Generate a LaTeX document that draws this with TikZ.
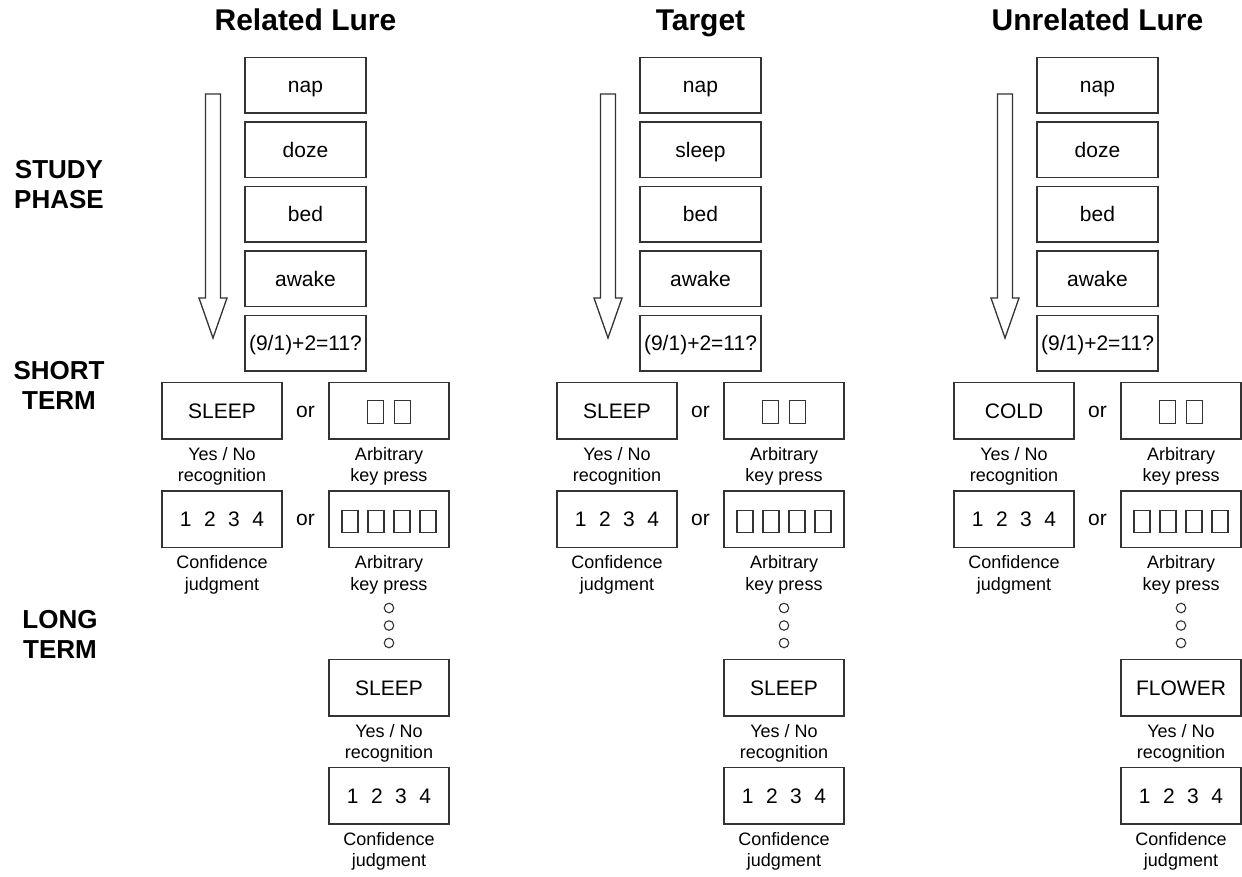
\documentclass[tikz,border=0pt]{standalone}
\usepackage{fontspec}
\setmainfont{Liberation Sans}
\usetikzlibrary{calc,positioning}
\definecolor{edge}{HTML}{333333}
\begin{document}
\begin{tikzpicture}[x=1pt,y=-1pt,
  wordbox/.style={draw=edge, line width=1.5pt, minimum width=121pt, minimum height=55.5pt,
    inner sep=0pt, text height=15pt, text depth=0pt, font=\fontsize{21}{25}\selectfont},
  respbox/.style={wordbox, minimum width=120pt, minimum height=56.5pt},
  caption/.style={font=\fontsize{18}{21.5}\selectfont, align=center, inner sep=0pt},
  heading/.style={font=\bfseries\fontsize{30}{36}\selectfont, inner sep=0pt, anchor=base},
  phase/.style={font=\bfseries\fontsize{26}{30}\selectfont, align=center, inner sep=0pt, anchor=north},
  orword/.style={font=\fontsize{21}{25}\selectfont, inner sep=0pt, text height=13pt, text depth=0pt},
  keycap/.style={draw=edge, line width=1.1pt, minimum width=16pt, minimum height=22.5pt, inner sep=0pt},
  dot/.style={draw=edge, line width=1.1pt, circle, minimum size=9.5pt, inner sep=0pt},
  flow/.style={draw=edge, line width=1.3pt, fill=white, line join=miter}
]
\useasboundingbox (0,0) rectangle (1242,876);

% phase labels on the left
\node[phase] (study) at (59,160) {STUDY\\PHASE};
\node[phase] (short) at (59,361) {SHORT\\TERM};
\node[phase] (long)  at (60,610) {LONG\\TERM};

% one column per condition: left edge of study list, name, heading, 2nd word, probes
\foreach \L/\c/\head/\w/\stw/\ltw in {
    245/a/Related Lure/doze/SLEEP/SLEEP,
    640/b/Target/sleep/SLEEP/SLEEP,
    1037/c/Unrelated Lure/doze/COLD/FLOWER}{
  \node[heading] (\c-title) at (\L+60.5,30) {\head};

  % study list
  \node[wordbox] (\c-s1) at (\L+60.5,85)    {nap};
  \node[wordbox] (\c-s2) at (\L+60.5,149.5) {\w};
  \node[wordbox] (\c-s3) at (\L+60.5,214)   {bed};
  \node[wordbox] (\c-s4) at (\L+60.5,278.5) {awake};
  \node[wordbox] (\c-s5) at (\L+60.5,343)   {(9/1)+2=11?};

  % hollow downward arrow beside the list
  \draw[flow] (\L-39.5,94) -- (\L-24.5,94) -- (\L-24.5,298) -- (\L-18,298)
    -- (\L-32,338) -- (\L-46,298) -- (\L-39.5,298) -- cycle;

  % short-term test: recognition / key press
  \node[respbox] (\c-yn) at (\L-23,410.5) {\stw};
  \node[orword]  (\c-or1) at (\L+60.5,410.5) {or};
  \node[respbox] (\c-k2) at (\L+144,410.5) {};
  \node[keycap]  (\c-k2a) at ($(\c-k2.center)+(-13.5,1.5)$) {};
  \node[keycap]  (\c-k2b) at ($(\c-k2.center)+(13.5,1.5)$) {};
  \node[caption, below=7.5pt of \c-yn] (\c-ynl) {Yes / No\\recognition};
  \node[caption, below=7.5pt of \c-k2] (\c-k2l) {Arbitrary\\key press};

  % short-term test: confidence / key press
  \node[respbox] (\c-cj) at (\L-23,519) {1\hspace{12.5pt}2\hspace{12.5pt}3\hspace{12.5pt}4};
  \node[orword]  (\c-or2) at (\L+60.5,519) {or};
  \node[respbox] (\c-k4) at (\L+144,519) {};
  \node[keycap]  (\c-k4a) at ($(\c-k4.center)+(-39,2.5)$) {};
  \node[keycap]  (\c-k4b) at ($(\c-k4.center)+(-13,2.5)$) {};
  \node[keycap]  (\c-k4c) at ($(\c-k4.center)+(13,2.5)$) {};
  \node[keycap]  (\c-k4d) at ($(\c-k4.center)+(39,2.5)$) {};
  \node[caption, below=7.5pt of \c-cj] (\c-cjl) {Confidence\\judgment};
  \node[caption, below=7.5pt of \c-k4] (\c-k4l) {Arbitrary\\key press};

  % delay
  \node[dot] (\c-d1) at (\L+144,608) {};
  \node[dot] (\c-d2) at (\L+144,625.5) {};
  \node[dot] (\c-d3) at (\L+144,643) {};

  % long-term test
  \node[respbox] (\c-lt) at (\L+144,687.5) {\ltw};
  \node[caption, below=7.5pt of \c-lt] (\c-ltl) {Yes / No\\recognition};
  \node[respbox] (\c-lc) at (\L+144,795.5) {1\hspace{12.5pt}2\hspace{12.5pt}3\hspace{12.5pt}4};
  \node[caption, below=7.5pt of \c-lc] (\c-lcl) {Confidence\\judgment};
}
\end{tikzpicture}
\end{document}
